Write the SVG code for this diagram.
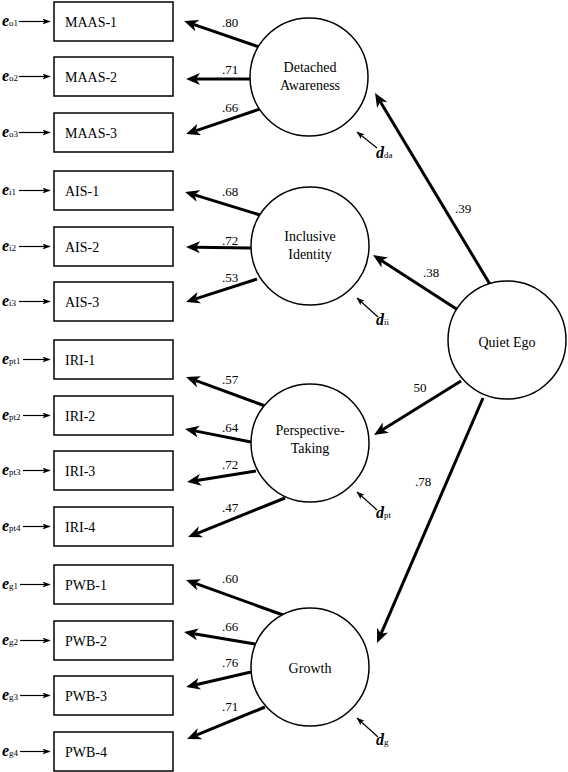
<svg xmlns="http://www.w3.org/2000/svg" width="568" height="772" viewBox="0 0 568 772">
<defs>
<style>
text{font-family:"Liberation Serif","Times New Roman",serif;fill:#000}
.box{fill:#fff;stroke:#000;stroke-width:1.5}
.lv{fill:#fff;stroke:#000;stroke-width:1.5}
.bt{font-size:14px}
.ct{font-size:14px;text-anchor:middle}
.num{font-size:13px;text-anchor:middle}
.ev{font-size:16px;font-weight:bold;font-style:italic}
.sub{font-size:9px;font-weight:normal;font-style:normal}
.thick{stroke:#000;stroke-width:3;fill:none;marker-end:url(#big)}
.thin{stroke:#000;stroke-width:1.2;fill:none;marker-end:url(#small)}
</style>
<marker id="big" viewBox="0 0 14 12" refX="4" refY="6" markerWidth="14" markerHeight="12" markerUnits="userSpaceOnUse" orient="auto">
<path d="M0,0 L14,6 L0,12 L4,6 z" fill="#000"/>
</marker>
<marker id="small" viewBox="0 0 8 6" refX="7.5" refY="3" markerWidth="8" markerHeight="6" markerUnits="userSpaceOnUse" orient="auto">
<path d="M0,0 L8,3 L0,6 L2,3 z" fill="#000"/>
</marker>
</defs>

<g id="connectors">
<!-- error arrows -->
<line class="thin" x1="19" y1="21.5" x2="50" y2="21.5"/>
<line class="thin" x1="19" y1="76.5" x2="50" y2="76.5"/>
<line class="thin" x1="19" y1="132.5" x2="50" y2="132.5"/>
<line class="thin" x1="19" y1="190.5" x2="50" y2="190.5"/>
<line class="thin" x1="19" y1="246.5" x2="50" y2="246.5"/>
<line class="thin" x1="19" y1="301.5" x2="50" y2="301.5"/>
<line class="thin" x1="23" y1="359.5" x2="50" y2="359.5"/>
<line class="thin" x1="23" y1="415.5" x2="50" y2="415.5"/>
<line class="thin" x1="23" y1="470.5" x2="50" y2="470.5"/>
<line class="thin" x1="23" y1="526.5" x2="50" y2="526.5"/>
<line class="thin" x1="20" y1="584.5" x2="50" y2="584.5"/>
<line class="thin" x1="20" y1="640.5" x2="50" y2="640.5"/>
<line class="thin" x1="20" y1="695.5" x2="50" y2="695.5"/>
<line class="thin" x1="20" y1="751.5" x2="50" y2="751.5"/>
<!-- loadings -->
<line class="thick" x1="259" y1="47" x2="193.5" y2="24.3"/>
<line class="thick" x1="250" y1="79" x2="196" y2="79"/>
<line class="thick" x1="260" y1="109" x2="195.5" y2="130.8"/>
<line class="thick" x1="260" y1="215" x2="194.6" y2="194.9"/>
<line class="thick" x1="251" y1="248" x2="196" y2="247.2"/>
<line class="thick" x1="257" y1="279" x2="195.5" y2="298.9"/>
<line class="thick" x1="265" y1="406" x2="195.4" y2="380.4"/>
<line class="thick" x1="251" y1="442" x2="194.8" y2="430.9"/>
<line class="thick" x1="256" y1="471" x2="196.9" y2="480.4"/>
<line class="thick" x1="285" y1="498" x2="197.3" y2="533.3"/>
<line class="thick" x1="283" y1="615" x2="195.4" y2="583.4"/>
<line class="thick" x1="255" y1="644" x2="193.9" y2="633.7"/>
<line class="thick" x1="251" y1="672" x2="195.9" y2="684.7"/>
<line class="thick" x1="265" y1="707" x2="196.3" y2="735.2"/>
<!-- structural -->
<line class="thick" x1="491" y1="286" x2="380.2" y2="101.6"/>
<line class="thick" x1="458" y1="310" x2="381.4" y2="260.4"/>
<line class="thick" x1="461" y1="381" x2="382.5" y2="429.7"/>
<line class="thick" x1="483" y1="398" x2="381" y2="633.8"/>
<!-- disturbances -->
<line class="thin" x1="377" y1="148" x2="357" y2="132"/>
<line class="thin" x1="378" y1="317" x2="357" y2="298"/>
<line class="thin" x1="377" y1="510" x2="357" y2="492"/>
<line class="thin" x1="378" y1="737" x2="357" y2="718"/>
<!-- labels -->
<text class="num" x="230" y="27">.80</text>
<text class="num" x="230" y="74">.71</text>
<text class="num" x="230" y="112">.66</text>
<text class="num" x="230" y="196">.68</text>
<text class="num" x="230" y="245">.72</text>
<text class="num" x="230" y="282">.53</text>
<text class="num" x="230" y="384">.57</text>
<text class="num" x="230" y="432">.64</text>
<text class="num" x="230" y="469">.72</text>
<text class="num" x="230" y="512">.47</text>
<text class="num" x="230" y="583">.60</text>
<text class="num" x="230" y="631">.66</text>
<text class="num" x="230" y="667">.76</text>
<text class="num" x="230" y="711">.71</text>
<text class="num" x="463" y="213">.39</text>
<text class="num" x="431" y="277">.38</text>
<text class="num" x="420" y="392">50</text>
<text class="num" x="423" y="486">.78</text>
</g>

<g id="errors">
<text class="ev" x="2" y="26">e<tspan class="sub">o1</tspan></text>
<text class="ev" x="2" y="81">e<tspan class="sub">o2</tspan></text>
<text class="ev" x="2" y="137">e<tspan class="sub">o3</tspan></text>
<text class="ev" x="2" y="195">e<tspan class="sub">i1</tspan></text>
<text class="ev" x="2" y="251">e<tspan class="sub">i2</tspan></text>
<text class="ev" x="2" y="306">e<tspan class="sub">i3</tspan></text>
<text class="ev" x="2" y="364">e<tspan class="sub">pt1</tspan></text>
<text class="ev" x="2" y="420">e<tspan class="sub">pt2</tspan></text>
<text class="ev" x="2" y="475">e<tspan class="sub">pt3</tspan></text>
<text class="ev" x="2" y="531">e<tspan class="sub">pt4</tspan></text>
<text class="ev" x="2" y="589">e<tspan class="sub">g1</tspan></text>
<text class="ev" x="2" y="645">e<tspan class="sub">g2</tspan></text>
<text class="ev" x="2" y="700">e<tspan class="sub">g3</tspan></text>
<text class="ev" x="2" y="756">e<tspan class="sub">g4</tspan></text>
</g>

<g id="disturbances">
<text class="ev" x="376" y="158">d<tspan class="sub">da</tspan></text>
<text class="ev" x="376" y="325">d<tspan class="sub">ii</tspan></text>
<text class="ev" x="376" y="518">d<tspan class="sub">pt</tspan></text>
<text class="ev" x="376" y="745">d<tspan class="sub">g</tspan></text>
</g>

<g id="MAAS-1"><rect class="box" x="54" y="2" width="119" height="39"/><text class="bt" x="65" y="27">MAAS-1</text></g>
<g id="MAAS-2"><rect class="box" x="54" y="57" width="119" height="39"/><text class="bt" x="65" y="82">MAAS-2</text></g>
<g id="MAAS-3"><rect class="box" x="54" y="113" width="119" height="39"/><text class="bt" x="65" y="138">MAAS-3</text></g>
<g id="AIS-1"><rect class="box" x="54" y="171" width="119" height="39"/><text class="bt" x="65" y="196">AIS-1</text></g>
<g id="AIS-2"><rect class="box" x="54" y="227" width="119" height="39"/><text class="bt" x="65" y="252">AIS-2</text></g>
<g id="AIS-3"><rect class="box" x="54" y="282" width="119" height="39"/><text class="bt" x="65" y="307">AIS-3</text></g>
<g id="IRI-1"><rect class="box" x="54" y="340" width="119" height="39"/><text class="bt" x="65" y="365">IRI-1</text></g>
<g id="IRI-2"><rect class="box" x="54" y="396" width="119" height="39"/><text class="bt" x="65" y="421">IRI-2</text></g>
<g id="IRI-3"><rect class="box" x="54" y="451" width="119" height="39"/><text class="bt" x="65" y="476">IRI-3</text></g>
<g id="IRI-4"><rect class="box" x="54" y="507" width="119" height="39"/><text class="bt" x="65" y="532">IRI-4</text></g>
<g id="PWB-1"><rect class="box" x="54" y="565" width="119" height="39"/><text class="bt" x="65" y="590">PWB-1</text></g>
<g id="PWB-2"><rect class="box" x="54" y="621" width="119" height="39"/><text class="bt" x="65" y="646">PWB-2</text></g>
<g id="PWB-3"><rect class="box" x="54" y="676" width="119" height="39"/><text class="bt" x="65" y="701">PWB-3</text></g>
<g id="PWB-4"><rect class="box" x="54" y="732" width="119" height="39"/><text class="bt" x="65" y="757">PWB-4</text></g>

<g id="DetachedAwareness"><circle class="lv" cx="309" cy="77" r="59"/><text class="ct" x="310" y="72">Detached</text><text class="ct" x="310" y="90">Awareness</text></g>
<g id="InclusiveIdentity"><circle class="lv" cx="310" cy="246" r="59"/><text class="ct" x="310" y="241">Inclusive</text><text class="ct" x="310" y="259">Identity</text></g>
<g id="PerspectiveTaking"><circle class="lv" cx="310" cy="443" r="59"/><text class="ct" x="310" y="435">Perspective-</text><text class="ct" x="310" y="453">Taking</text></g>
<g id="Growth"><circle class="lv" cx="310" cy="667" r="59"/><text class="ct" x="310" y="673">Growth</text></g>
<g id="QuietEgo"><circle class="lv" cx="507" cy="340" r="59"/><text class="ct" x="507" y="347">Quiet Ego</text></g>
</svg>
